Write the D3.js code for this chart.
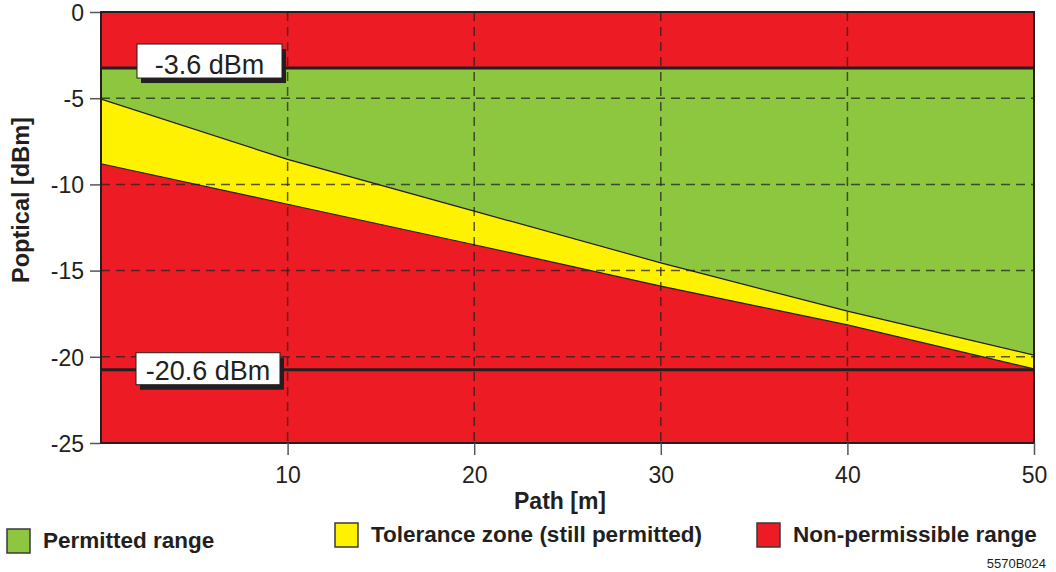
<!DOCTYPE html>
<html>
<head>
<meta charset="utf-8">
<script src="https://cdn.jsdelivr.net/npm/d3@7"></script>
<style>
  body { margin: 0; background: #fff; }
  text { font-family: "Liberation Sans", Arial, sans-serif; fill: #231F20; }
</style>
</head>
<body>
<script>
// path length in metres
var pathM = [0, 10, 20, 30, 40, 50];
// green / yellow boundary (upper limit of tolerance zone), dBm
var upperLimit = [-5.05, -8.55, -11.55, -14.55, -17.35, -19.9];
// yellow / red boundary (lower limit of tolerance zone), dBm
var lowerLimit = [-8.8, -11.15, -13.5, -15.9, -18.15, -20.7];
// horizontal limit lines and their labels
var levelValues = [-3.25, -20.75];
var levelLabels = ["-3.6 dBm", "-20.6 dBm"];
var xTicks = [10, 20, 30, 40, 50];
var yTicks = [0, -5, -10, -15, -20, -25];
var legendLabels = ["Permitted range", "Tolerance zone (still permitted)", "Non-permissible range"];

var RED = "#ED1C24", GREEN = "#8DC63F", YELLOW = "#FFF200", DARK = "#231F20";

var W = 1056, H = 572;
// plot box (note: "top" is a reserved window property, so use other names)
var plotL = 101, plotR = 1034, plotT = 12, plotB = 443;

var svg = d3.select("body").append("svg")
    .attr("width", W)
    .attr("height", H);

var x = d3.scaleLinear().domain([0, 50]).range([plotL, plotR]);
var y = d3.scaleLinear().domain([0, -25]).range([plotT, plotB]);

var pts = pathM.map(function(d, i) {
    return {m: d, up: upperLimit[i], lo: lowerLimit[i]};
});

svg.append("clipPath").attr("id", "plot")
  .append("rect")
    .attr("x", plotL).attr("y", plotT)
    .attr("width", plotR - plotL).attr("height", plotB - plotT);

var plot = svg.append("g").attr("clip-path", "url(#plot)");

// red background = non-permissible
plot.append("rect")
    .attr("x", plotL).attr("y", plotT)
    .attr("width", plotR - plotL).attr("height", plotB - plotT)
    .style("fill", RED);

// green: between the top limit line and the upper boundary
plot.append("path")
    .datum(pts)
    .attr("d", d3.area()
        .x(function(d) { return x(d.m); })
        .y0(function(d) { return y(d.up); })
        .y1(y(levelValues[0])))
    .style("fill", GREEN);

// yellow tolerance zone
plot.append("path")
    .datum(pts)
    .attr("d", d3.area()
        .x(function(d) { return x(d.m); })
        .y0(function(d) { return y(d.lo); })
        .y1(function(d) { return y(d.up); }))
    .style("fill", YELLOW);

// boundary lines
["up", "lo"].forEach(function(k) {
    plot.append("path")
        .datum(pts)
        .attr("d", d3.line()
            .x(function(d) { return x(d.m); })
            .y(function(d) { return y(d[k]); }))
        .style("fill", "none")
        .style("stroke", DARK)
        .style("stroke-width", 1.2);
});

// dashed grid
plot.selectAll(".vgrid")
    .data(xTicks.slice(0, 4))
    .enter().append("line")
    .attr("x1", function(d) { return x(d); })
    .attr("x2", function(d) { return x(d); })
    .attr("y1", plotT).attr("y2", plotB)
    .style("stroke", "#222").style("stroke-opacity", 0.75)
    .style("stroke-width", 1.5).style("stroke-dasharray", "9,6");

plot.selectAll(".hgrid")
    .data([-5, -10, -15, -20])
    .enter().append("line")
    .attr("x1", plotL).attr("x2", plotR)
    .attr("y1", function(d) { return y(d); })
    .attr("y2", function(d) { return y(d); })
    .style("stroke", "#222").style("stroke-opacity", 0.75)
    .style("stroke-width", 1.5).style("stroke-dasharray", "9,6");

// limit lines
plot.selectAll(".level")
    .data(levelValues)
    .enter().append("line")
    .attr("x1", plotL).attr("x2", plotR)
    .attr("y1", function(d) { return y(d); })
    .attr("y2", function(d) { return y(d); })
    .style("stroke", DARK)
    .style("stroke-width", 3);

// frame
svg.append("rect")
    .attr("x", plotL).attr("y", plotT)
    .attr("width", plotR - plotL).attr("height", plotB - plotT)
    .style("fill", "none")
    .style("stroke", DARK)
    .style("stroke-width", 2);

// label boxes on the limit lines (box offsets relative to the line)
var boxOff = [{x: 137, w: 145, dy: -24, h: 34, ty: 6}, {x: 136, w: 144, dy: -17, h: 32, ty: 10}];
levelValues.forEach(function(v, i) {
    var b = boxOff[i], yy = y(v);
    svg.append("rect")
        .attr("x", b.x + 4).attr("y", yy + b.dy + 5)
        .attr("width", b.w).attr("height", b.h)
        .style("fill", DARK);
    svg.append("rect")
        .attr("x", b.x).attr("y", yy + b.dy)
        .attr("width", b.w).attr("height", b.h)
        .style("fill", "#fff")
        .style("stroke", DARK)
        .style("stroke-width", 1);
    svg.append("text")
        .attr("x", b.x + b.w / 2).attr("y", yy + b.ty)
        .attr("text-anchor", "middle")
        .style("font-size", "27px")
        .text(levelLabels[i]);
});

// axes
var yAxis = svg.append("g")
    .attr("transform", "translate(" + (plotL - 1) + ",0)")
    .call(d3.axisLeft(y).tickValues(yTicks).tickSize(10).tickPadding(6)
        .tickFormat(function(d) { return d === 0 ? "0" : "-" + Math.abs(d); }));
yAxis.select(".domain").remove();
yAxis.selectAll("line").style("stroke", "#555").style("stroke-width", 1.5);
yAxis.selectAll("text").style("font-size", "23px").style("fill", DARK).attr("dy", "0.36em");

var xAxis = svg.append("g")
    .attr("transform", "translate(0," + plotB + ")")
    .call(d3.axisBottom(x).tickValues(xTicks).tickSize(12).tickPadding(12));
xAxis.select(".domain").remove();
xAxis.selectAll("line").style("stroke", "#555").style("stroke-width", 1.5);
xAxis.selectAll("text").style("font-size", "23px").style("fill", DARK);

// axis titles
svg.append("text")
    .attr("x", 560).attr("y", 509)
    .attr("text-anchor", "middle")
    .style("font-size", "23px").style("font-weight", "bold")
    .text("Path [m]");

svg.append("text")
    .attr("transform", "translate(29,200) rotate(-90)")
    .attr("text-anchor", "middle")
    .style("font-size", "23.5px").style("font-weight", "bold")
    .text("Poptical [dBm]");

// legend
var legendPos = [{x: 7, y: 529}, {x: 335, y: 523}, {x: 757, y: 523}];
var legendColors = [GREEN, YELLOW, RED];
var lg = svg.selectAll(".legend")
    .data(legendLabels)
    .enter().append("g")
    .attr("class", "legend")
    .attr("transform", function(d, i) { return "translate(" + legendPos[i].x + "," + legendPos[i].y + ")"; });
lg.append("rect")
    .attr("width", 23).attr("height", 24)
    .style("fill", function(d, i) { return legendColors[i]; })
    .style("stroke", "#3a3a3a").style("stroke-width", 1.5);
lg.append("text")
    .attr("x", 36).attr("y", 19)
    .style("font-size", "22.5px").style("font-weight", "bold")
    .text(function(d) { return d; });

svg.append("text")
    .attr("x", 1046).attr("y", 568)
    .attr("text-anchor", "end")
    .style("font-size", "13px")
    .text("5570B024");
</script>
</body>
</html>
